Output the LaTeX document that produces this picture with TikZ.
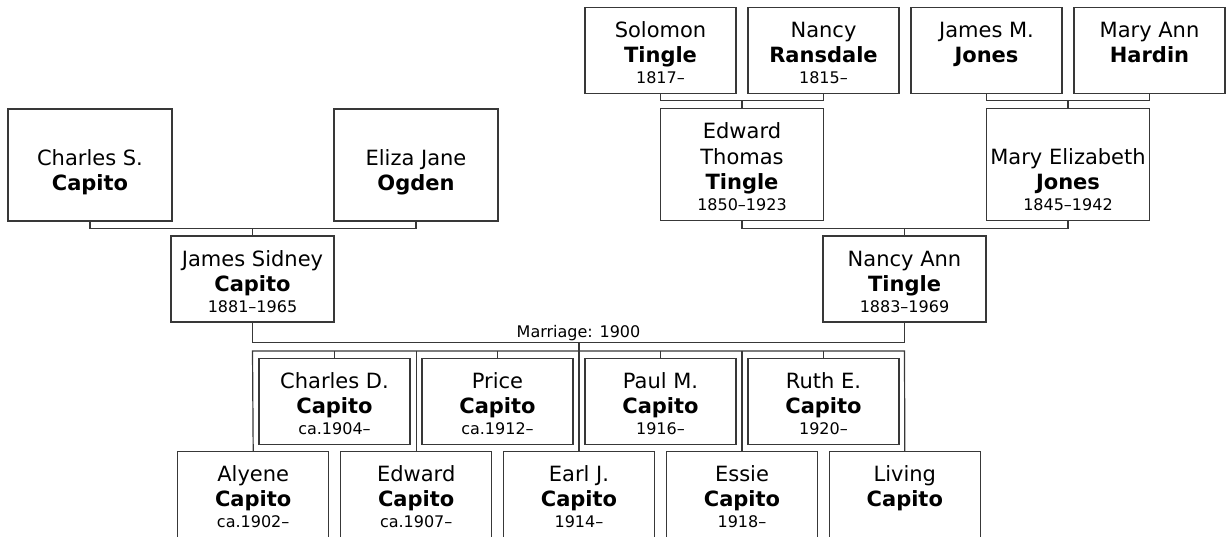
\documentclass[tikz,border=0pt]{standalone}
\usepackage{fontspec}
\setmainfont{DejaVu Sans}
\tikzset{
  pbox/.style={draw=black!78, line width=1.2pt, inner sep=0pt, outer sep=0pt, anchor=north west, fill=white},
  conn/.style={draw=black!78, line width=1.2pt},
  firstname/.style={anchor=base, inner sep=0pt, font=\fontsize{21}{25}\selectfont},
  lastname/.style={anchor=base, inner sep=0pt, font=\fontsize{21}{25}\selectfont\bfseries},
  datetxt/.style={anchor=base, inner sep=0pt, font=\fontsize{16}{19}\selectfont},
  martxt/.style={anchor=base, inner sep=0pt, font=\fontsize{16}{19}\selectfont},
}
% #1 id, #2 left, #3 top, #4 width, #5 height, #6 first, #7 last, #8 date
\newcommand\personbox[8]{%
  \node[pbox, minimum width=#4, minimum height=#5] (#1) at (#2,#3) {};
  \node[datetxt] (#1-d) at ([yshift=10]#1.south) {#8};
  \node[lastname] (#1-l) at ([yshift=31]#1.south) {#7};
  \node[firstname] (#1-f) at ([yshift=56]#1.south) {#6};
}
\begin{document}
\begin{tikzpicture}[x=1pt,y=-1pt]
\useasboundingbox (0,0) rectangle (1227,536);
\clip (0,0) rectangle (1227,536);
% grandparents
\personbox{charles}{8}{109}{164}{112}{Charles S.}{Capito}{}
\personbox{eliza}{334}{109}{164}{112}{Eliza Jane}{Ogden}{}
\personbox{solomon}{585}{7.7}{151}{85.5}{Solomon}{Tingle}{1817–}
\personbox{nancyr}{748}{7.7}{151}{85.5}{Nancy}{Ransdale}{1815–}
\personbox{jamesm}{911}{7.7}{151}{85.5}{James M.}{Jones}{}
\personbox{maryann}{1074}{7.7}{151}{85.5}{Mary Ann}{Hardin}{}
% parents of Nancy Ann
\personbox{edwardt}{660.5}{108.3}{163}{112}{Thomas}{Tingle}{1850–1923}
\node[firstname] (edwardt-e) at ([yshift=82]edwardt.south) {Edward};
\personbox{maryeliz}{986.5}{108.3}{163}{112}{Mary Elizabeth}{Jones}{1845–1942}
% couple
\personbox{james}{171}{236}{163}{86}{James Sidney}{Capito}{1881–1965}
\personbox{nancyann}{823}{236}{163}{86}{Nancy Ann}{Tingle}{1883–1969}
% children upper row
\personbox{charlesd}{259}{358.3}{151}{86}{Charles D.}{Capito}{ca.1904–}
\personbox{price}{422}{358.3}{151}{86}{Price}{Capito}{ca.1912–}
\personbox{paul}{585}{358.3}{151}{86}{Paul M.}{Capito}{1916–}
\personbox{ruth}{748}{358.3}{151}{86}{Ruth E.}{Capito}{1920–}
% children lower row
\personbox{alyene}{177.7}{451.7}{151}{86}{Alyene}{Capito}{ca.1902–}
\personbox{edward}{340.7}{451.7}{151}{86}{Edward}{Capito}{ca.1907–}
\personbox{earl}{503.5}{451.7}{151}{86}{Earl J.}{Capito}{1914–}
\personbox{essie}{666.5}{451.7}{151}{86}{Essie}{Capito}{1918–}
\personbox{living}{829.3}{451.7}{151}{86}{Living}{Capito}{}
% connector levels
\coordinate (lvA) at (0,228.4);
\coordinate (lvB) at (0,100.7);
\coordinate (lvM) at (0,342.5);
\coordinate (lvR) at (0,351);
% Charles + Eliza -> James
\draw[conn] (charles.south) -- (charles.south |- lvA) -- (eliza.south |- lvA) -- (eliza.south);
\draw[conn] (james.north |- lvA) -- (james.north);
% Solomon + Nancy -> Edward Thomas
\draw[conn] (solomon.south) -- (solomon.south |- lvB) -- (nancyr.south |- lvB) -- (nancyr.south);
\draw[conn] (edwardt.north |- lvB) -- (edwardt.north);
% James M + Mary Ann -> Mary Elizabeth
\draw[conn] (jamesm.south) -- (jamesm.south |- lvB) -- (maryann.south |- lvB) -- (maryann.south);
\draw[conn] (maryeliz.north |- lvB) -- (maryeliz.north);
% Edward Thomas + Mary Elizabeth -> Nancy Ann
\draw[conn] (edwardt.south) -- (edwardt.south |- lvA) -- (maryeliz.south |- lvA) -- (maryeliz.south);
\draw[conn] (nancyann.north |- lvA) -- (nancyann.north);
% marriage
\draw[conn] (james.south) -- (james.south |- lvM) -- (nancyann.south |- lvM) -- (nancyann.south);
\node[martxt] (marlabel) at (578.5,337.7) {Marriage: 1900};
\draw[conn] (earl.north |- lvM) -- (earl.north);
% children rail
\draw[conn] (alyene.north) -- (james.south |- lvR) -- (nancyann.south |- lvR) -- (living.north);
\draw[conn] (edward.north) -- (edward.north |- lvR);
\draw[conn] (essie.north) -- (essie.north |- lvR);
\draw[conn] (charlesd.north) -- (charlesd.north |- lvR);
\draw[conn] (price.north) -- (price.north |- lvR);
\draw[conn] (paul.north) -- (paul.north |- lvR);
\draw[conn] (ruth.north) -- (ruth.north |- lvR);
\end{tikzpicture}
\end{document}
